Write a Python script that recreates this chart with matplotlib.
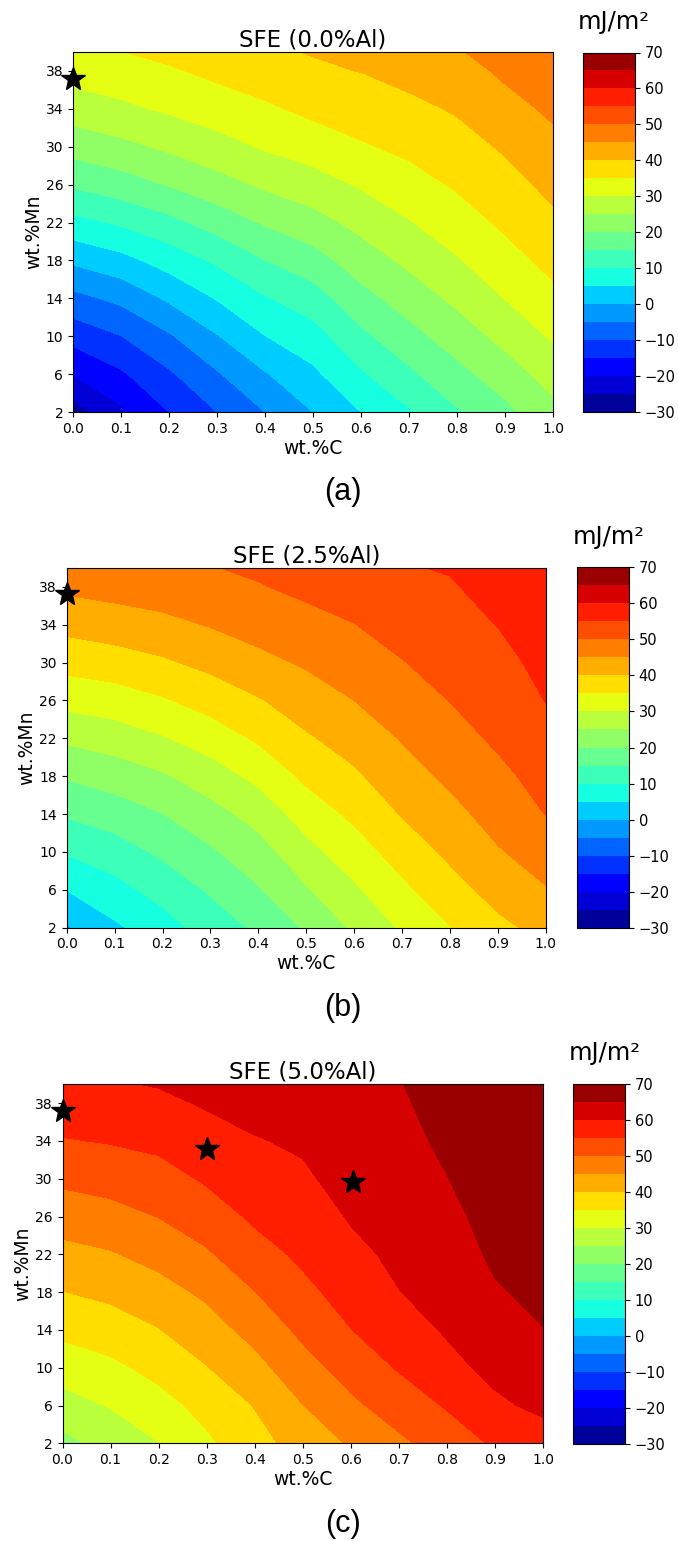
import matplotlib
matplotlib.use("Agg")
import matplotlib.pyplot as plt
import numpy as np

# grid (rows = wt.%Mn, columns = wt.%C)
C_WT = [0.0, 0.1, 0.2, 0.3, 0.4, 0.5, 0.6, 0.7, 0.8, 0.9, 1.0]
MN_WT = [2, 6, 10, 14, 18, 22, 26, 30, 34, 38, 40]

# columns by carbon content, values along Mn (mJ/m^2)
SFE_AL00_COLS = [
    [-27.0, -19.8, -13.2, -6.5, 0.9, 8.5, 15.7, 22.0, 27.3, 32.0, 34.0],
    [-21.0, -15.7, -10.1, -3.8, 3.4, 10.7, 17.7, 23.7, 29.0, 33.0, 34.9],
    [-15.0, -10.7, -5.6, 0.8, 7.1, 13.6, 20.3, 25.9, 30.7, 34.4, 36.3],
    [-10.0, -5.5, -0.3, 5.3, 10.8, 17.1, 23.1, 28.2, 32.4, 36.2, 38.0],
    [-5.0, -0.4, 4.9, 9.6, 14.9, 20.5, 25.8, 30.5, 34.2, 37.8, 39.4],
    [0.0, 4.0, 8.0, 12.7, 18.0, 23.1, 27.9, 32.3, 36.2, 39.4, 40.2],
    [5.0, 9.4, 13.9, 18.3, 22.5, 26.5, 30.5, 34.5, 37.4, 40.1, 41.4],
    [9.5, 14.1, 18.3, 22.3, 26.1, 29.7, 33.1, 36.1, 38.8, 41.6, 43.0],
    [14.5, 18.5, 22.4, 26.1, 29.6, 32.7, 35.6, 38.1, 40.5, 43.0, 44.6],
    [18.7, 22.6, 26.5, 30.1, 33.1, 35.9, 38.2, 40.6, 43.3, 45.9, 47.0],
    [23.6, 27.1, 30.6, 33.7, 36.5, 39.0, 41.3, 43.6, 45.9, 48.0, 49.0],
]
SFE_AL25_COLS = [
    [-0.5, 5.1, 10.4, 15.5, 20.5, 25.9, 31.6, 36.7, 41.5, 46.0, 48.3],
    [4.2, 8.3, 12.7, 17.4, 22.2, 27.4, 32.6, 37.7, 42.6, 46.8, 48.8],
    [7.8, 11.9, 15.9, 19.9, 24.4, 29.6, 34.5, 39.3, 43.7, 47.6, 49.2],
    [12.3, 15.6, 19.3, 23.2, 27.6, 32.3, 37.0, 41.3, 45.3, 48.6, 49.8],
    [15.9, 19.6, 23.0, 26.8, 31.3, 35.7, 39.6, 43.7, 46.9, 49.7, 50.8],
    [20.6, 24.5, 28.3, 32.3, 36.0, 39.4, 42.5, 45.6, 48.4, 51.1, 52.3],
    [25.8, 29.2, 32.7, 36.0, 39.2, 42.1, 45.0, 47.4, 49.9, 52.3, 53.5],
    [30.6, 33.9, 37.1, 40.3, 43.0, 45.3, 47.6, 49.8, 51.9, 53.9, 54.7],
    [34.8, 38.1, 41.0, 43.6, 45.9, 48.1, 50.1, 51.9, 53.4, 54.6, 55.3],
    [38.8, 41.8, 44.6, 46.8, 48.8, 50.8, 52.3, 53.6, 55.1, 56.5, 57.2],
    [41.5, 44.7, 47.2, 50.1, 51.8, 53.5, 55.1, 56.3, 57.4, 58.6, 59.2],
]
SFE_AL50_COLS = [
    [23.5, 28.0, 32.2, 36.1, 39.9, 43.5, 47.2, 51.0, 54.7, 57.9, 58.9],
    [26.8, 30.3, 33.9, 37.6, 41.1, 44.6, 48.3, 51.9, 55.3, 58.3, 59.5],
    [29.9, 33.2, 36.5, 39.8, 43.2, 46.6, 50.1, 53.1, 56.2, 58.9, 60.3],
    [34.1, 36.6, 39.8, 42.9, 45.9, 49.4, 52.6, 55.6, 58.0, 60.5, 61.6],
    [38.2, 40.2, 43.4, 46.6, 49.9, 53.1, 55.8, 57.7, 59.7, 61.6, 62.6],
    [42.0, 44.9, 48.1, 51.1, 53.8, 55.9, 57.5, 59.2, 60.7, 62.2, 63.0],
    [45.5, 49.0, 52.0, 54.9, 56.9, 58.8, 60.4, 61.9, 63.0, 63.9, 64.4],
    [49.0, 52.3, 55.4, 57.7, 59.9, 61.0, 61.8, 62.9, 63.7, 64.4, 64.8],
    [52.4, 55.4, 58.6, 60.5, 61.8, 62.9, 63.9, 64.9, 65.8, 66.6, 67.0],
    [55.6, 59.1, 61.3, 63.1, 64.6, 65.7, 66.5, 67.2, 67.8, 68.4, 68.7],
    [57.6, 61.1, 63.3, 64.9, 66.0, 66.9, 67.6, 68.2, 68.7, 69.1, 69.3],
]

PANEL_TITLES = ["SFE (0.0%Al)", "SFE (2.5%Al)", "SFE (5.0%Al)"]
PANEL_TAGS = ["(a)", "(b)", "(c)"]

# marked alloys (wt.%C, wt.%Mn)
STARS_AL00 = [(0.0, 37.2)]
STARS_AL25 = [(0.0, 37.2)]
STARS_AL50 = [(0.0, 37.2), (0.3, 33.1), (0.605, 29.7)]

LEVELS = np.arange(-30, 71, 5)
CBAR_TICKS = np.arange(-30, 71, 10)
Y_TICKS = np.arange(2, 39, 4)
X_TICKS = np.arange(0.0, 1.01, 0.1)

W, H = 678, 1541


def px_rect(x0, x1, y_top, y_bot):
    return [x0 / W, 1 - y_bot / H, (x1 - x0) / W, (y_bot - y_top) / H]


fig = plt.figure(figsize=(W / 100, H / 100), dpi=100)

layouts = [
    # plot box, colorbar box, unit label xy, tag y
    ((73, 553, 52, 412), (583, 635, 52.5, 411.5), (614, 22), 492),
    ((66.7, 545.7, 567.8, 927.7), (577, 629, 567.5, 927.5), (609, 537), 1008),
    ((62.5, 543, 1084.3, 1443.3), (573, 625, 1084, 1444), (605, 1053), 1524),
]
fields = [SFE_AL00_COLS, SFE_AL25_COLS, SFE_AL50_COLS]
stars = [STARS_AL00, STARS_AL25, STARS_AL50]

cc, mm = np.meshgrid(C_WT, MN_WT)

for i, (plot_box, cbar_box, unit_xy, tag_y) in enumerate(layouts):
    ax = fig.add_axes(px_rect(*plot_box))
    cax = fig.add_axes(px_rect(*cbar_box))
    z = np.array(fields[i]).T
    cs = ax.contourf(cc, mm, z, levels=LEVELS, cmap="jet")
    for c_val, mn_val in stars[i]:
        ax.plot(c_val, mn_val, marker="*", color="k", markersize=18,
                linestyle="none", clip_on=False, zorder=5)
    ax.set_xlim(0, 1)
    ax.set_ylim(2, 40)
    ax.set_xticks(X_TICKS)
    ax.set_xticklabels([f"{v:.1f}" for v in X_TICKS])
    ax.set_yticks(Y_TICKS)
    ax.tick_params(labelsize=10)
    ax.set_xlabel("wt.%C", fontsize=13.5, labelpad=2)
    ax.set_ylabel("wt.%Mn", fontsize=13.5, labelpad=2)
    ax.set_title(PANEL_TITLES[i], fontsize=16.5, pad=4)

    cbar = fig.colorbar(cs, cax=cax, ticks=CBAR_TICKS)
    cbar.ax.tick_params(labelsize=10.5)

    fig.text(unit_xy[0] / W, 1 - unit_xy[1] / H, "mJ/m²", fontsize=17.5,
             ha="center", va="center")
    fig.text(343 / W, 1 - tag_y / H, PANEL_TAGS[i], fontsize=22,
             family="Liberation Sans", ha="center", va="center")

fig.savefig("out.png", dpi=100)
